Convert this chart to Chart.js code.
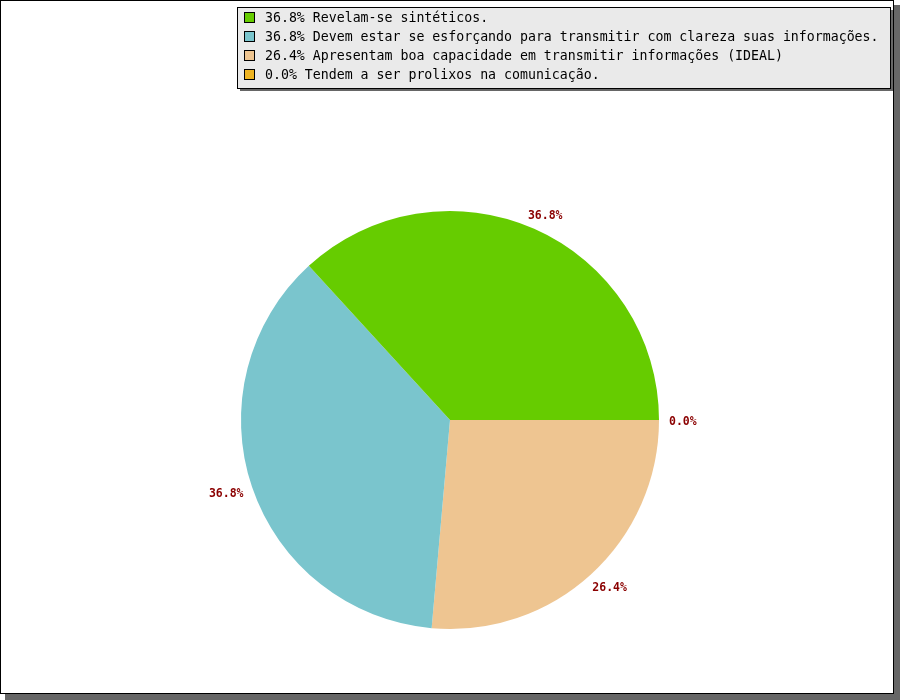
<!DOCTYPE html>
<html>
<head>
<meta charset="utf-8">
<script src="https://cdn.jsdelivr.net/npm/chart.js@4"></script>
<style>
html,body{margin:0;padding:0;background:#fff;}
#wrap{width:900px;height:700px;position:relative;}
canvas{display:block;}
</style>
</head>
<body>
<div id="wrap"><canvas id="c" width="900" height="700"></canvas></div>
<script>
// Data (legend order)
const categories = [
  "Revelam-se sintéticos.",
  "Devem estar se esforçando para transmitir com clareza suas informações.",
  "Apresentam boa capacidade em transmitir informações (IDEAL)",
  "Tendem a ser prolixos na comunicação."
];
const percentages = [36.8, 36.8, 26.4, 0.0];
const sliceColors = ["#66CC00", "#7AC5CD", "#EEC591", "#EEB422"];

// The pie runs counter-clockwise from 3 o'clock in the reference;
// Chart.js draws clockwise, so feed the slices in reverse order.
const order = [3, 2, 1, 0];

const framePlugin = {
  id: 'frame',
  beforeDraw(chart) {
    const ctx = chart.ctx;
    ctx.save();
    ctx.fillStyle = '#ffffff';
    ctx.fillRect(0, 0, 900, 700);
    ctx.fillStyle = '#666666';
    ctx.fillRect(5, 5, 895, 695);
    ctx.fillStyle = '#ffffff';
    ctx.fillRect(0, 0, 894, 694);
    ctx.strokeStyle = '#000000';
    ctx.lineWidth = 1;
    ctx.strokeRect(0.5, 0.5, 893, 693);
    ctx.restore();
  }
};

const labelPlugin = {
  id: 'sliceLabels',
  afterDatasetsDraw(chart) {
    const ctx = chart.ctx;
    const meta = chart.getDatasetMeta(0);
    ctx.save();
    ctx.font = 'bold 11.5px "DejaVu Sans Mono"';
    ctx.fillStyle = '#8B0000';
    ctx.textAlign = 'center';
    ctx.textBaseline = 'middle';
    meta.data.forEach((arc, i) => {
      const p = arc.getProps(['x','y','startAngle','endAngle','outerRadius'], true);
      const mid = (p.startAngle + p.endAngle) / 2;
      const idx = order[i];
      const txt = percentages[idx].toFixed(1) + '%';
      const w = ctx.measureText(txt).width;
      const cx = Math.cos(mid), cy = Math.sin(mid);
      const d = p.outerRadius + 10;
      const x = p.x + d * cx + (w / 2) * cx;
      const y = p.y + d * cy + 2 + 6 * cy;
      ctx.fillText(txt, x, y);
    });
    ctx.restore();
  }
};

const legendPlugin = {
  id: 'boxLegend',
  afterDraw(chart) {
    const ctx = chart.ctx;
    ctx.save();
    const x0 = 237, y0 = 7, w = 653, h = 81;
    ctx.fillStyle = '#666666';
    ctx.fillRect(x0 + 3, y0 + 3, w, h);
    ctx.fillStyle = '#EAEAEA';
    ctx.fillRect(x0, y0, w, h);
    ctx.strokeStyle = '#000000';
    ctx.lineWidth = 1;
    ctx.strokeRect(x0 + 0.5, y0 + 0.5, w, h);
    // fit the longest line to the reference span (x 265 .. 879)
    const lines = categories.map((c, i) => percentages[i].toFixed(1) + '% ' + c);
    ctx.font = '13px "DejaVu Sans Mono"';
    const maxW = Math.max(...lines.map(t => ctx.measureText(t).width));
    const size = 13 * 614 / maxW;
    ctx.font = size.toFixed(2) + 'px "DejaVu Sans Mono"';
    ctx.textBaseline = 'middle';
    ctx.textAlign = 'left';
    lines.forEach((t, i) => {
      const yc = 18 + i * 19;
      ctx.fillStyle = sliceColors[i];
      ctx.fillRect(244, yc - 5, 10, 10);
      ctx.strokeStyle = '#000';
      ctx.strokeRect(244.5, yc - 5.5, 10, 10);
      ctx.fillStyle = '#000';
      ctx.fillText(t, 265, yc + 1);
    });
    ctx.restore();
  }
};

new Chart(document.getElementById('c'), {
  type: 'pie',
  data: {
    labels: order.map(i => categories[i]),
    datasets: [{
      data: order.map(i => percentages[i]),
      backgroundColor: order.map(i => sliceColors[i]),
      borderWidth: 0
    }]
  },
  options: {
    responsive: false,
    animation: false,
    rotation: 90,
    layout: { padding: { left: 241, right: 241, top: 211, bottom: 71 } },
    plugins: {
      legend: { display: false },
      tooltip: { enabled: false }
    }
  },
  plugins: [framePlugin, labelPlugin, legendPlugin]
});
</script>
</body>
</html>
